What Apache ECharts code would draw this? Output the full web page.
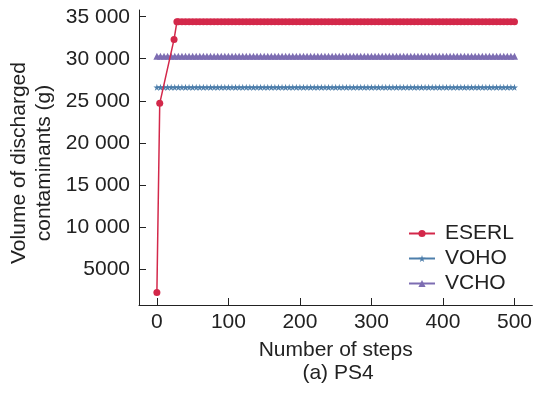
<!DOCTYPE html>
<html>
<head>
<meta charset="utf-8">
<script src="https://cdn.jsdelivr.net/npm/echarts@6/dist/echarts.min.js"></script>
<style>
  html, body { margin: 0; padding: 0; background: #fff; }
  #chart { width: 535px; height: 394px; }
</style>
</head>
<body>
<div id="chart"></div>
<script>
// Steps sampled every 5 iterations
const steps = [0,5,10,15,20,25,30,35,40,45,50,55,60,65,70,75,80,85,90,95,
  100,105,110,115,120,125,130,135,140,145,150,155,160,165,170,175,180,185,190,195,
  200,205,210,215,220,225,230,235,240,245,250,255,260,265,270,275,280,285,290,295,
  300,305,310,315,320,325,330,335,340,345,350,355,360,365,370,375,380,385,390,395,
  400,405,410,415,420,425,430,435,440,445,450,455,460,465,470,475,480,485,490,495,500];

// ESERL has its own early sample points
const eserlSteps = [0,4,24,28,30,35,40,45,50,55,60,65,70,75,80,85,90,95,
  100,105,110,115,120,125,130,135,140,145,150,155,160,165,170,175,180,185,190,195,
  200,205,210,215,220,225,230,235,240,245,250,255,260,265,270,275,280,285,290,295,
  300,305,310,315,320,325,330,335,340,345,350,355,360,365,370,375,380,385,390,395,
  400,405,410,415,420,425,430,435,440,445,450,455,460,465,470,475,480,485,490,495,500];
const eserlValues = [2200,24700,32300,34400,34400,34400,34400,34400,34400,34400,34400,34400,34400,34400,34400,34400,34400,34400,
  34400,34400,34400,34400,34400,34400,34400,34400,34400,34400,34400,34400,34400,34400,34400,34400,34400,34400,34400,34400,
  34400,34400,34400,34400,34400,34400,34400,34400,34400,34400,34400,34400,34400,34400,34400,34400,34400,34400,34400,34400,
  34400,34400,34400,34400,34400,34400,34400,34400,34400,34400,34400,34400,34400,34400,34400,34400,34400,34400,34400,34400,
  34400,34400,34400,34400,34400,34400,34400,34400,34400,34400,34400,34400,34400,34400,34400,34400,34400,34400,34400,34400,34400];

const vohoValues = [26600,26600,26600,26600,26600,26600,26600,26600,26600,26600,26600,26600,26600,26600,26600,26600,26600,26600,26600,26600,
  26600,26600,26600,26600,26600,26600,26600,26600,26600,26600,26600,26600,26600,26600,26600,26600,26600,26600,26600,26600,
  26600,26600,26600,26600,26600,26600,26600,26600,26600,26600,26600,26600,26600,26600,26600,26600,26600,26600,26600,26600,
  26600,26600,26600,26600,26600,26600,26600,26600,26600,26600,26600,26600,26600,26600,26600,26600,26600,26600,26600,26600,
  26600,26600,26600,26600,26600,26600,26600,26600,26600,26600,26600,26600,26600,26600,26600,26600,26600,26600,26600,26600,26600];

const vchoValues = [30300,30300,30300,30300,30300,30300,30300,30300,30300,30300,30300,30300,30300,30300,30300,30300,30300,30300,30300,30300,
  30300,30300,30300,30300,30300,30300,30300,30300,30300,30300,30300,30300,30300,30300,30300,30300,30300,30300,30300,30300,
  30300,30300,30300,30300,30300,30300,30300,30300,30300,30300,30300,30300,30300,30300,30300,30300,30300,30300,30300,30300,
  30300,30300,30300,30300,30300,30300,30300,30300,30300,30300,30300,30300,30300,30300,30300,30300,30300,30300,30300,30300,
  30300,30300,30300,30300,30300,30300,30300,30300,30300,30300,30300,30300,30300,30300,30300,30300,30300,30300,30300,30300,30300];

const xTicks = [0,100,200,300,400,500];
const yTicks = [5000,10000,15000,20000,25000,30000,35000];
const yTickLabels = ['5000','10 000','15 000','20 000','25 000','30 000','35 000'];

const seriesNames = ['ESERL','VOHO','VCHO'];
const colors = ['#d3284a','#4d7eab','#7d6db2'];

const pairs = (xs, ys) => xs.map((x, i) => [x, ys[i]]);

const FONT = 'Liberation Sans, Arial, sans-serif';
const TEXT = '#222';
const FS = 21;
const starPath = 'path://M50,0 L61,35 L98,35 L68,57 L79,91 L50,70 L21,91 L32,57 L2,35 L39,35 Z';

const chart = echarts.init(document.getElementById('chart'), null, { renderer: 'canvas' });
chart.setOption({
  animation: false,
  backgroundColor: '#fff',
  textStyle: { fontFamily: FONT },
  grid: { left: 139, right: 2, top: 10, bottom: 89, containLabel: false },
  xAxis: {
    type: 'value', min: -25, max: 525,
    name: 'Number of steps', nameLocation: 'middle', nameGap: 35,
    nameTextStyle: { color: TEXT, fontSize: FS, fontFamily: FONT },
    axisLine: { onZero: false, lineStyle: { color: '#222', width: 1 } },
    axisTick: { inside: true, length: 7, customValues: xTicks, lineStyle: { color: '#222' } },
    axisLabel: { customValues: xTicks, color: TEXT, fontSize: FS, margin: 7, fontFamily: FONT },
    splitLine: { show: false }
  },
  yAxis: {
    type: 'value', min: 700, max: 35800,
    axisLine: { show: true, onZero: false, lineStyle: { color: '#222', width: 1 } },
    axisTick: { show: true, inside: true, length: 7, customValues: yTicks, lineStyle: { color: '#222' } },
    axisLabel: {
      customValues: yTicks, color: TEXT, fontSize: FS, margin: 9, fontFamily: FONT,
      formatter: v => yTickLabels[yTicks.indexOf(v)]
    },
    splitLine: { show: false }
  },
  legend: {
    data: seriesNames,
    orient: 'vertical',
    left: 403, top: 218,
    itemWidth: 26, itemHeight: 9, itemGap: 4,
    textStyle: { color: TEXT, fontSize: FS, fontFamily: FONT, padding: [0, 0, 0, 5] }
  },
  graphic: [
    {
      type: 'text', x: 32, y: 163, rotation: Math.PI / 2,
      style: {
        text: 'Volume of discharged\ncontaminants (g)',
        fill: TEXT, font: FS + 'px ' + FONT, align: 'center', verticalAlign: 'middle', lineHeight: 25
      }
    },
    {
      type: 'text', x: 338, y: 373,
      style: { text: '(a) PS4', fill: TEXT, font: FS + 'px ' + FONT, align: 'center', verticalAlign: 'middle' }
    }
  ],
  series: [
    {
      name: 'ESERL', type: 'line', data: pairs(eserlSteps, eserlValues), z: 4,
      color: colors[0], symbol: 'circle', symbolSize: 7, showAllSymbol: true,
      lineStyle: { width: 1.5, color: colors[0] }, itemStyle: { color: colors[0] }
    },
    {
      name: 'VOHO', type: 'line', data: pairs(steps, vohoValues), z: 2,
      color: colors[1], symbol: starPath, symbolSize: 7, showAllSymbol: true,
      lineStyle: { width: 1.5, color: colors[1] }, itemStyle: { color: colors[1] }
    },
    {
      name: 'VCHO', type: 'line', data: pairs(steps, vchoValues), z: 3,
      color: colors[2], symbol: 'triangle', symbolSize: 7, showAllSymbol: true,
      lineStyle: { width: 1.5, color: colors[2] }, itemStyle: { color: colors[2] }
    }
  ]
});
</script>
</body>
</html>
